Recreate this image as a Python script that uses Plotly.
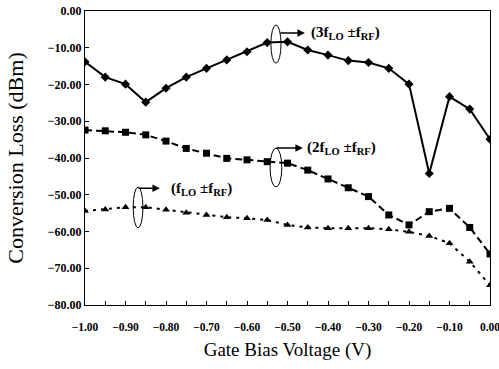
import plotly.graph_objects as go

gate_bias = [-1.00, -0.95, -0.90, -0.85, -0.80, -0.75, -0.70, -0.65, -0.60, -0.55, -0.50,
             -0.45, -0.40, -0.35, -0.30, -0.25, -0.20, -0.15, -0.10, -0.05, 0.00]
loss_3f = [-13.8, -18.0, -19.9, -24.8, -21.0, -18.0, -15.6, -13.3, -11.1, -8.6, -8.4,
           -10.6, -12.0, -13.5, -14.0, -15.6, -19.9, -44.2, -23.3, -26.7, -34.9]
loss_2f = [-32.4, -32.6, -33.0, -33.7, -35.4, -37.4, -38.7, -40.1, -40.5, -41.0, -41.4,
           -43.3, -45.7, -48.1, -50.5, -55.5, -58.2, -54.6, -53.7, -58.9, -66.1]
loss_1f = [-54.4, -54.0, -53.4, -53.4, -54.1, -54.9, -55.5, -56.1, -56.4, -56.9, -58.2,
           -58.9, -59.1, -59.1, -59.1, -59.4, -60.1, -61.2, -63.2, -68.2, -74.6]

fig = go.Figure()
fig.add_trace(go.Scatter(x=gate_bias, y=loss_3f, mode="lines+markers",
                         line=dict(color="black", width=2),
                         marker=dict(symbol="diamond", size=7, color="black")))
fig.add_trace(go.Scatter(x=gate_bias, y=loss_2f, mode="lines+markers",
                         line=dict(color="black", width=2, dash="7px,4px"),
                         marker=dict(symbol="square", size=7, color="black")))
fig.add_trace(go.Scatter(x=gate_bias, y=loss_1f, mode="lines+markers",
                         line=dict(color="black", width=2, dash="3px,5px"),
                         marker=dict(symbol="triangle-up", size=7, color="black")))

serif = "Liberation Serif"
lab_font = dict(family=serif, size=15, color="black", weight="bold")

ellipses = [(-0.541, -0.516, -3.8, -14.2), (-0.543, -0.514, -37.3, -47.9), (-0.881, -0.857, -47.9, -59.0)]
for x0, x1, y0, y1 in ellipses:
    fig.add_shape(type="circle", xref="x", yref="y", x0=x0, x1=x1, y0=y0, y1=y1,
                  line=dict(color="black", width=1))

arrows = [(-0.457, -6.0, -26), (-0.462, -37.3, -28), (-0.815, -48.2, -23)]
for x, y, ax in arrows:
    fig.add_annotation(x=x, y=y, ax=ax, ay=0, xref="x", yref="y", showarrow=True,
                       arrowhead=2, arrowsize=1, arrowwidth=1.5, arrowcolor="black", text="")

labels = [(-0.446, -6.0, "(3f<sub>LO</sub> ±f<sub>RF</sub>)"),
          (-0.456, -37.3, "(2f<sub>LO</sub> ±f<sub>RF</sub>)"),
          (-0.792, -48.5, "(f<sub>LO</sub> ±f<sub>RF</sub>)")]
for x, y, t in labels:
    fig.add_annotation(x=x, y=y, xref="x", yref="y", text=t, showarrow=False,
                       xanchor="left", yanchor="middle", font=lab_font)

fig.update_layout(
    width=499, height=369, showlegend=False,
    margin=dict(l=85, r=9, t=11, b=64, autoexpand=False),
    paper_bgcolor="white", plot_bgcolor="white",
)
fig.update_xaxes(range=[-1.0, 0.0], dtick=0.1, tickformat=".2f", ticks="inside", ticklen=4,
                 tickcolor="black", showline=True, linecolor="black", linewidth=1, mirror=True,
                 showgrid=False, zeroline=False, automargin=False, ticklabeloverflow="allow",
                 ticklabelstandoff=11,
                 minor=dict(dtick=0.05, ticks="inside", ticklen=4, tickcolor="black", showgrid=False),
                 tickfont=dict(family=serif, size=11.5, color="black", weight="bold"),
                 title=dict(text="Gate Bias Voltage (V)", font=dict(family=serif, size=19, color="black"),
                            standoff=10))
fig.update_yaxes(range=[-80, 0], dtick=10, tickformat=".2f", ticks="inside", ticklen=4,
                 tickcolor="black", showline=True, linecolor="black", linewidth=1, mirror=True,
                 showgrid=False, zeroline=False, automargin=False, ticklabeloverflow="allow",
                 tickfont=dict(family=serif, size=12, color="black", weight="bold"),
                 title=dict(text="Conversion Loss (dBm)", font=dict(family=serif, size=22, color="black"),
                            standoff=18))

fig.write_html("out.html", config={"displayModeBar": False},
               post_script="document.body.style.margin='0px';")
